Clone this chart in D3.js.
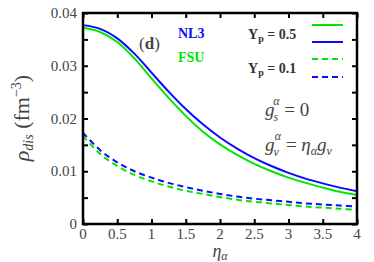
<!DOCTYPE html>
<html>
<head>
<meta charset="utf-8">
<script src="https://cdn.jsdelivr.net/npm/d3@7"></script>
<style>
  body { margin: 0; background: #fff; }
  svg text { font-family: "Liberation Serif", "DejaVu Serif", serif; }
</style>
</head>
<body>
<div id="chart"></div>
<script>
// eta_alpha values
const eta = [0, 0.25, 0.5, 0.75, 1, 1.25, 1.5, 1.75, 2, 2.25, 2.5, 2.75, 3, 3.25, 3.5, 3.75, 4];

// rho_dis, Yp = 0.5
const nl3Yp05 = [0.0377, 0.0370, 0.0352, 0.0323, 0.0287, 0.0251, 0.0218, 0.0189, 0.0164, 0.0143, 0.0125, 0.0110, 0.0097, 0.0086, 0.0077, 0.0069, 0.0062];
const fsuYp05 = [0.0372, 0.0364, 0.0345, 0.0314, 0.0276, 0.0239, 0.0205, 0.0175, 0.0151, 0.0131, 0.0114, 0.0100, 0.0088, 0.0078, 0.0069, 0.0061, 0.0055];
// rho_dis, Yp = 0.1
const nl3Yp01 = [0.0173, 0.0140, 0.0117, 0.0100, 0.0088, 0.0078, 0.0070, 0.0063, 0.0057, 0.0052, 0.0048, 0.0045, 0.0042, 0.0039, 0.0037, 0.0035, 0.0033];
const fsuYp01 = [0.0167, 0.0133, 0.0110, 0.0093, 0.0081, 0.0071, 0.0063, 0.0057, 0.0051, 0.0046, 0.0042, 0.0039, 0.0036, 0.0033, 0.0031, 0.0029, 0.0027];

const xTicks = [0, 0.5, 1, 1.5, 2, 2.5, 3, 3.5, 4];
const xTickLabels = ["0", "0.5", "1", "1.5", "2", "2.5", "3", "3.5", "4"];
const yTicks = [0, 0.01, 0.02, 0.03, 0.04];
const yTickLabels = ["0", "0.01", "0.02", "0.03", "0.04"];
const yMinorTicks = [0.005, 0.015, 0.025, 0.035];

const blue = "#0a0aff";
const green = "#00e600";

const width = 374, height = 262;
const margin = { top: 13, right: 17, bottom: 38, left: 83 };

const xScale = d3.scaleLinear().domain([0, 4]).range([margin.left, width - margin.right]);
const yScale = d3.scaleLinear().domain([0, 0.04]).range([height - margin.bottom, margin.top]);

const svg = d3.select("#chart").append("svg")
  .attr("width", width)
  .attr("height", height);

const series = [
  { values: nl3Yp05, color: blue, dash: null },
  { values: fsuYp05, color: green, dash: null },
  { values: nl3Yp01, color: blue, dash: "6,4" },
  { values: fsuYp01, color: green, dash: "6,4" }
];

const line = d3.line()
  .x((d, i) => xScale(eta[i]))
  .y(d => yScale(d))
  .curve(d3.curveCatmullRom);

svg.append("g")
  .selectAll("path")
  .data(series)
  .join("path")
  .attr("d", d => line(d.values))
  .attr("fill", "none")
  .attr("stroke", d => d.color)
  .attr("stroke-width", 2)
  .attr("stroke-dasharray", d => d.dash);

// axes with inward ticks
const x0 = margin.left, x1 = width - margin.right;
const y0 = height - margin.bottom, y1 = margin.top;

svg.append("g")
  .attr("transform", `translate(0,${y0})`)
  .call(d3.axisBottom(xScale).tickValues(xTicks).tickSize(-5).tickFormat(""))
  .call(g => g.select(".domain").remove());
svg.append("g")
  .attr("transform", `translate(0,${y1})`)
  .call(d3.axisTop(xScale).tickValues(xTicks).tickSize(-5).tickFormat(""))
  .call(g => g.select(".domain").remove());
svg.append("g")
  .attr("transform", `translate(${x0},0)`)
  .call(d3.axisLeft(yScale).tickValues(yTicks.concat(yMinorTicks)).tickSize(-5).tickFormat(""))
  .call(g => g.select(".domain").remove());
svg.append("g")
  .attr("transform", `translate(${x1},0)`)
  .call(d3.axisRight(yScale).tickValues(yTicks.concat(yMinorTicks)).tickSize(-5).tickFormat(""))
  .call(g => g.select(".domain").remove());
svg.selectAll(".tick line").attr("stroke", "#000").attr("stroke-width", 2);

svg.append("rect")
  .attr("x", x0).attr("y", y1)
  .attr("width", x1 - x0).attr("height", y0 - y1)
  .attr("fill", "none").attr("stroke", "#000").attr("stroke-width", 2.5);

// tick labels
svg.append("g")
  .selectAll("text")
  .data(xTicks)
  .join("text")
  .attr("x", d => xScale(d))
  .attr("y", y0 + 15)
  .attr("text-anchor", "middle")
  .attr("font-size", 15)
  .attr("fill", "#444")
  .text((d, i) => xTickLabels[i]);

svg.append("g")
  .selectAll("text")
  .data(yTicks)
  .join("text")
  .attr("x", x0 - 6)
  .attr("y", d => yScale(d) + 5)
  .attr("text-anchor", "end")
  .attr("font-size", 15)
  .attr("fill", "#444")
  .text((d, i) => yTickLabels[i]);

// axis titles
const xt = svg.append("text")
  .attr("x", xScale(2))
  .attr("y", 257)
  .attr("text-anchor", "middle")
  .attr("fill", "#444")
  .attr("font-size", 18)
  .attr("font-style", "italic");
xt.append("tspan").text("η");
xt.append("tspan").attr("font-size", 12).attr("dy", 3).text("α");

const yt = svg.append("text")
  .attr("transform", `translate(29,118) rotate(-90)`)
  .attr("text-anchor", "middle")
  .attr("fill", "#444")
  .attr("font-size", 22);
yt.append("tspan").attr("font-style", "italic").text("ρ");
yt.append("tspan").attr("font-style", "italic").attr("font-size", 14).attr("dy", 4).text("dis");
yt.append("tspan").attr("dy", -4).text(" (fm");
yt.append("tspan").attr("font-size", 14).attr("dy", -8).text("−3");
yt.append("tspan").attr("dy", 8).text(")");

// panel label and model legend
svg.append("text")
  .attr("x", 139).attr("y", 49)
  .attr("font-size", 17).attr("fill", "#444")
  .html("(<tspan font-weight='bold'>d</tspan>)");
svg.append("text")
  .attr("x", 178).attr("y", 38)
  .attr("font-size", 14).attr("font-weight", "bold").attr("fill", blue)
  .text("NL3");
svg.append("text")
  .attr("x", 178).attr("y", 62)
  .attr("font-size", 14).attr("font-weight", "bold").attr("fill", green)
  .text("FSU");

// Yp legend
const ypLabels = ["0.5", "0.1"];
const ypLabelY = [39, 73];
ypLabels.forEach((v, i) => {
  const t = svg.append("text")
    .attr("x", 248).attr("y", ypLabelY[i])
    .attr("font-size", 14).attr("font-weight", "bold").attr("fill", "#333");
  t.append("tspan").text("Y");
  t.append("tspan").attr("font-size", 10).attr("dy", 3).text("p");
  t.append("tspan").attr("dy", -3).text(" = " + v);
});
const legendLines = [
  { y: 25, color: green, dash: null },
  { y: 42, color: blue, dash: null },
  { y: 59, color: green, dash: "6,4" },
  { y: 77, color: blue, dash: "6,4" }
];
svg.append("g")
  .selectAll("line")
  .data(legendLines)
  .join("line")
  .attr("x1", 312).attr("x2", 343)
  .attr("y1", d => d.y).attr("y2", d => d.y)
  .attr("stroke", d => d.color)
  .attr("stroke-width", 2)
  .attr("stroke-dasharray", d => d.dash);

// coupling annotations
const g1 = svg.append("text")
  .attr("x", 265).attr("y", 116)
  .attr("font-size", 19).attr("fill", "#444").attr("font-style", "italic");
g1.append("tspan").text("g");
g1.append("tspan").attr("font-size", 12).attr("dy", 5).attr("dx", -1).text("s");
g1.append("tspan").attr("font-size", 12).attr("dy", -16).attr("dx", -5).text("α");
g1.append("tspan").attr("dy", 11).attr("font-style", "normal").text(" = 0");

const g2 = svg.append("text")
  .attr("x", 265).attr("y", 151)
  .attr("font-size", 19).attr("fill", "#444").attr("font-style", "italic");
g2.append("tspan").text("g");
g2.append("tspan").attr("font-size", 12).attr("dy", 5).attr("dx", -1).text("v");
g2.append("tspan").attr("font-size", 12).attr("dy", -16).attr("dx", -4).text("α");
g2.append("tspan").attr("dy", 11).attr("font-style", "normal").text(" = ");
g2.append("tspan").text("η");
g2.append("tspan").attr("font-size", 12).attr("dy", 4).text("α");
g2.append("tspan").attr("dy", -4).text("g");
g2.append("tspan").attr("font-size", 12).attr("dy", 4).text("v");
</script>
</body>
</html>
